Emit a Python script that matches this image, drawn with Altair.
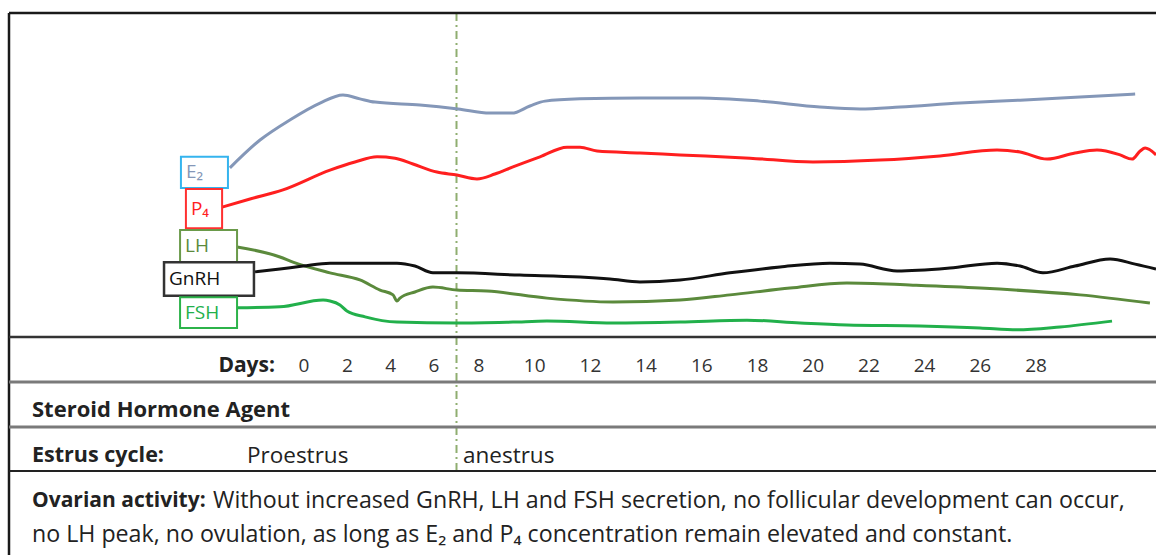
import altair as alt
import pandas as pd

# ---------------- data (x: cycle day, y: relative concentration) ----------------
hormones = ["E₂", "P₄", "LH", "GnRH", "FSH"]
line_colors = ["#8497b8", "#ff1f1f", "#5b8a3c", "#111111", "#22b04b"]
box_colors = ["#35b4ee", "#ff3030", "#6a9a4a", "#333333", "#2cb34a"]
text_colors = ["#a9b5cc", "#e52a2a", "#6a9a4a", "#3a3a3a", "#a3a3a3"]

e2_day = [-3.42, -2.03, -0.65, 0.74, 1.80, 2.58, 3.28, 5.35, 7.07, 8.39, 9.18, 9.83, 10.37,
          11.63, 13.78, 15.94, 18.09, 20.24, 21.68, 23.12, 25.27, 27.43, 29.58, 31.56]
e2_val = [52.2, 60.8, 67.0, 72.2, 74.7, 73.5, 72.5, 71.6, 70.4, 69.1, 69.1, 71.3, 72.8,
          73.5, 73.8, 73.8, 72.8, 71.0, 70.4, 71.0, 72.2, 73.1, 74.1, 75.0]

p4_day = [-3.78, -2.49, -0.97, 1.20, 2.35, 3.37, 4.20, 5.03, 6.13, 7.02, 7.91, 8.57, 9.22,
          10.19, 11.16, 11.63, 12.24, 13.78, 15.22, 17.73, 19.99, 22.40, 24.55, 26.60,
          27.43, 28.40, 29.40, 30.19, 31.02, 31.45, 31.74, 31.92, 32.31]
p4_val = [40.1, 42.6, 45.4, 51.5, 54.0, 55.6, 55.2, 53.4, 50.9, 50.0, 48.8, 50.3, 52.5,
          55.6, 58.6, 58.6, 57.4, 56.8, 56.2, 55.2, 54.0, 54.6, 55.9, 57.7,
          57.1, 54.9, 56.8, 57.7, 56.2, 54.9, 57.4, 58.3, 56.2]

gnrh_day = [-2.26, -1.11, -0.05, 1.20, 4.29, 5.12, 5.95, 7.02, 9.47, 11.63, 12.70, 13.78,
            15.22, 17.01, 18.81, 20.60, 21.68, 23.01, 24.91, 26.60, 27.43, 28.25, 29.40,
            30.66, 31.56, 32.31]
gnrh_val = [20.1, 21.0, 21.9, 22.8, 22.8, 21.9, 19.8, 19.8, 19.1, 18.5, 17.9, 17.0,
            17.6, 19.8, 21.6, 22.8, 22.5, 20.4, 21.3, 22.8, 21.9, 19.8, 21.9,
            24.1, 22.5, 21.0]

lh_day = [-3.09, -1.11, -0.51, 1.20, 2.58, 3.51, 4.11, 4.29, 4.43, 5.12, 5.95, 7.02, 8.29,
          10.44, 12.81, 15.22, 17.01, 19.17, 21.21, 23.58, 25.99, 29.58, 32.09]
lh_val = [27.8, 24.7, 23.1, 19.8, 17.6, 14.5, 13.0, 11.1, 12.0, 13.9, 15.4, 14.5, 14.2,
          12.0, 10.8, 11.4, 13.0, 15.1, 16.7, 16.0, 15.1, 13.0, 10.5]

fsh_day = [-3.09, -1.11, 0.88, 1.20, 1.66, 1.98, 2.82, 4.29, 7.02, 9.22, 10.44, 12.81,
           15.22, 17.62, 19.53, 21.21, 23.83, 25.99, 27.32, 28.86, 30.73]
fsh_val = [9.0, 9.3, 11.4, 11.1, 9.9, 8.0, 6.2, 4.6, 4.3, 4.6, 4.9, 4.3,
           4.6, 5.2, 4.3, 3.7, 3.4, 2.8, 2.2, 3.1, 4.9]

# label boxes next to the curve starts (day / concentration units)
box_x0 = [-5.68, -5.45, -5.72, -6.46, -5.72]
box_x1 = [-3.51, -3.78, -3.09, -2.31, -3.09]
box_y0 = [46.0, 33.6, 23.1, 12.7, 2.8]
box_y1 = [55.6, 45.7, 33.0, 23.1, 12.3]

day_ticks = [0, 2, 4, 6, 8, 10, 12, 14, 16, 18, 20, 22, 24, 26, 28]
phase_boundary = [7]

# ---------------- tables ----------------
series = [(e2_day, e2_val), (p4_day, p4_val), (lh_day, lh_val), (gnrh_day, gnrh_val), (fsh_day, fsh_val)]
rows = []
for h, (ds, vs) in zip(hormones, series):
    for i, (d, v) in enumerate(zip(ds, vs)):
        rows.append({"hormone": h, "day": d, "val": v, "i": i})
lines_df = pd.DataFrame(rows)

boxes_df = pd.DataFrame({
    "hormone": hormones, "x0": box_x0, "x1": box_x1, "y0": box_y0, "y1": box_y1,
})
boxes_df["yc"] = (boxes_df["y0"] + boxes_df["y1"]) / 2

ticks_df = pd.DataFrame({"day": day_ticks, "label": [str(d) for d in day_ticks]})
boundary_df = pd.DataFrame({"day": phase_boundary})

W, H = 1147, 542
FONT = "Open Sans"
xscale = alt.Scale(domain=[0, 6, 8, 28], range=[295, 425, 470, 1027], nice=False, zero=False)
yscale = alt.Scale(domain=[0, 100], range=[324, 0], nice=False, zero=False)

line_color = alt.Color("hormone:N", scale=alt.Scale(domain=hormones, range=line_colors), legend=None)

curves = alt.Chart(lines_df).mark_line(strokeWidth=3, interpolate="monotone").encode(
    x=alt.X("day:Q", scale=xscale, axis=None),
    y=alt.Y("val:Q", scale=yscale, axis=None),
    color=line_color,
    detail="hormone:N",
    order="i:Q",
)

boxes = alt.Chart(boxes_df).mark_rect(fill="white").encode(
    x=alt.X("x0:Q", scale=xscale, axis=None),
    x2="x1:Q",
    y=alt.Y("y0:Q", scale=yscale, axis=None),
    y2="y1:Q",
    stroke=alt.Stroke("hormone:N", scale=alt.Scale(domain=hormones, range=box_colors), legend=None),
    strokeWidth=alt.condition(alt.datum.hormone == "GnRH", alt.value(2.5), alt.value(2)),
)

box_text = alt.Chart(boxes_df).mark_text(font=FONT, fontSize=19, baseline="middle", align="left", dx=5).encode(
    x=alt.X("x0:Q", scale=xscale, axis=None),
    y=alt.Y("yc:Q", scale=yscale, axis=None),
    text="hormone:N",
    color=alt.Color("hormone:N", scale=alt.Scale(domain=hormones, range=text_colors), legend=None),
)

boundary = alt.Chart(boundary_df).mark_rule(color="#8fae70", strokeWidth=2, strokeDash=[8, 4, 2, 4]).encode(
    x=alt.X("day:Q", scale=xscale, axis=None),
    y=alt.value(0),
    y2=alt.value(458),
)

tick_labels = alt.Chart(ticks_df).mark_text(font=FONT, fontSize=19, color="#333333", baseline="middle").encode(
    x=alt.X("day:Q", scale=xscale, axis=None),
    y=alt.value(353),
    text="label:N",
)

# frame and table rules
def hrule(ypix, color, width):
    return alt.Chart(pd.DataFrame({"k": [0]})).mark_rule(color=color, strokeWidth=width).encode(
        x=alt.value(0), x2=alt.value(W), y=alt.value(ypix))

frame_top = hrule(0, "#1a1a1a", 2.5)
frame_left = alt.Chart(pd.DataFrame({"k": [0]})).mark_rule(color="#1a1a1a", strokeWidth=2.5).encode(
    x=alt.value(0), y=alt.value(0), y2=alt.value(H))
r1 = hrule(324, "#333333", 2.5)
r2 = hrule(369, "#7a7a7a", 3)
r3 = hrule(414, "#7a7a7a", 3)
r4 = hrule(458, "#222222", 2)

def label(txt, xpix, ypix, bold=False, align="left", size=21):
    return alt.Chart(pd.DataFrame({"t": [txt]})).mark_text(
        font=FONT, fontSize=size, fontWeight="bold" if bold else "normal",
        color="#222222", align=align, baseline="middle").encode(
        x=alt.value(xpix), y=alt.value(ypix), text="t:N")

texts = [
    label("Days:", 266, 353, bold=True, align="right"),
    label("Steroid Hormone Agent", 23, 397, bold=True, size=22),
    label("Estrus cycle:", 23, 443, bold=True, size=21.5),
    label("Proestrus", 238, 443, size=22.5),
    label("anestrus", 454, 443, size=22.5),
    label("Ovarian activity:", 23, 488, bold=True),
    label("Without increased GnRH, LH and FSH secretion, no follicular development can occur,", 204, 488, size=23.2),
    label("no LH peak, no ovulation, as long as E₂ and P₄ concentration remain elevated and constant.", 23, 522, size=23.2),
]

chart = alt.layer(
    boundary, curves, boxes, box_text, tick_labels,
    frame_top, frame_left, r1, r2, r3, r4, *texts
).properties(
    width=W, height=H,
    padding={"left": 9, "top": 13, "right": 0, "bottom": 0},
    autosize=alt.AutoSizeParams(type="none"),
    background="white",
).configure_view(stroke=None)

chart.save("out.html", embed_options={"renderer": "svg", "actions": False})
